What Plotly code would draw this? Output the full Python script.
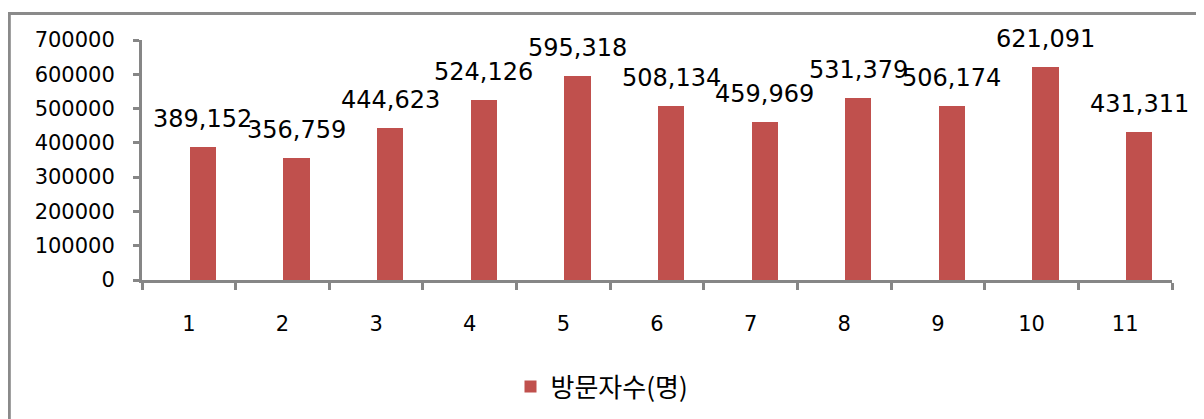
import plotly.graph_objects as go

categories = ["1", "2", "3", "4", "5", "6", "7", "8", "9", "10", "11"]
visitors = [389152, 356759, 444623, 524126, 595318, 508134, 459969, 531379, 506174, 621091, 431311]
y_ticks = [0, 100000, 200000, 300000, 400000, 500000, 600000, 700000]
series_name = "방문자수(명)"

# page body has an 8px default margin; work in screen pixels
OFF = 8
W, H = 1204, 419
SL, SR, ST, SB = 142, 1172, 40, 280  # plot area in screen pixels
L, T = SL - OFF, ST - OFF
pw, ph = SR - SL, SB - ST
R, B = W - L - pw, H - T - ph

def px_x(s):
    return (s - SL) / pw

def px_y(s):
    return (SB - s) / ph

BAR_OFF = 0.01
BAR_W = 0.28

fig = go.Figure()
fig.add_trace(go.Bar(
    x=categories, y=visitors, name=series_name,
    marker=dict(color="#C0504D", line=dict(width=0)),
    offset=BAR_OFF, width=BAR_W,
    showlegend=True,
))

for i, v in enumerate(visitors):
    fig.add_annotation(
        x=i + BAR_OFF + BAR_W / 2, y=v, text=f"{v:,}", showarrow=False,
        xanchor="center", yanchor="bottom", yshift=12,
        font=dict(family="DejaVu Sans", size=24, color="#000000"),
    )

axis_color = "#868686"
fig.update_xaxes(
    type="category", tickson="boundaries", range=[-0.5, len(categories) - 0.5],
    showline=True, linecolor=axis_color, linewidth=3,
    ticks="outside", ticklen=7, tickwidth=3, tickcolor=axis_color,
    showgrid=False, zeroline=False, automargin=False,
    tickfont=dict(family="DejaVu Sans", size=21, color="#000000"),
    ticklabelstandoff=23,
)
fig.update_yaxes(
    range=[0, 700000], tickvals=y_ticks, ticktext=[str(t) for t in y_ticks],
    showline=True, linecolor=axis_color, linewidth=3,
    ticks="outside", ticklen=6, tickwidth=3, tickcolor=axis_color,
    showgrid=False, zeroline=False, automargin=False,
    tickfont=dict(family="DejaVu Sans", size=21, color="#000000"),
    ticklabelstandoff=14,
)

frame_color = "#8A8A8A"
fig.add_shape(type="line", xref="paper", yref="paper",
              x0=px_x(9.3), x1=px_x(9.3), y0=px_y(12), y1=px_y(460),
              line=dict(color=frame_color, width=3))
fig.add_shape(type="line", xref="paper", yref="paper",
              x0=px_x(8), x1=px_x(1202.5), y0=px_y(13.5), y1=px_y(13.5),
              line=dict(color=frame_color, width=3))
fig.add_shape(type="line", xref="paper", yref="paper",
              x0=px_x(1202.5), x1=px_x(1202.5), y0=px_y(12), y1=px_y(460),
              line=dict(color=frame_color, width=1.5))

fig.update_layout(
    width=W, height=H,
    margin=dict(l=L, r=R, t=T, b=B, pad=0, autoexpand=False),
    paper_bgcolor="#FFFFFF", plot_bgcolor="#FFFFFF",
    bargap=0,
    legend=dict(
        orientation="h", x=px_x(510.5), y=px_y(386.5),
        xanchor="left", yanchor="middle",
        font=dict(family="Noto Sans CJK KR", size=26, color="#000000"),
        bgcolor="rgba(0,0,0,0)",
    ),
)

fig.write_html("out.html")
